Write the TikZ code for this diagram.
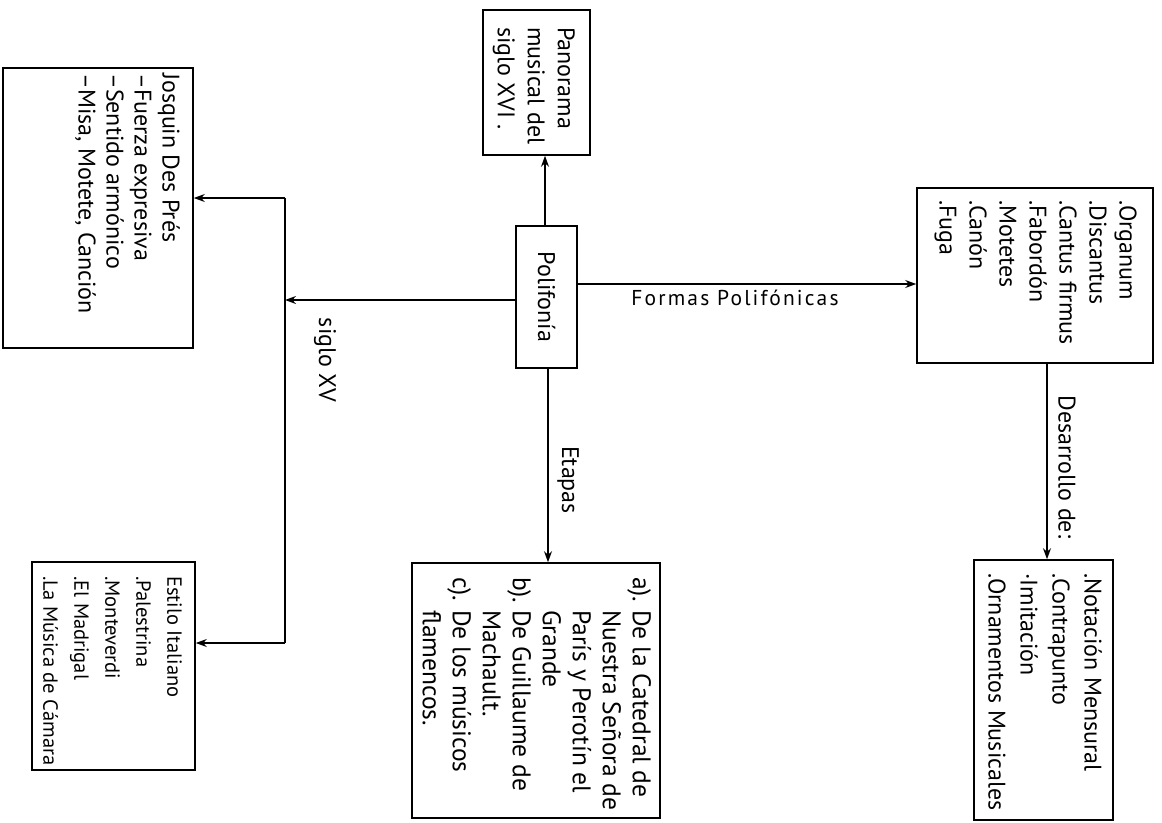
\documentclass[tikz,border=0pt]{standalone}
\usepackage{fontspec}
\setmainfont{PT Sans}
\newfontfamily\spacedfont[LetterSpace=10]{PT Sans}
\usetikzlibrary{arrows.meta,calc}
\begin{document}
\begin{tikzpicture}[x=1pt,y=-1pt,
  box/.style={draw,line width=1.6pt,inner sep=0pt},
  txt/.style={rotate=-90,anchor=north west,inner sep=0pt,align=left,font=\fontsize{24}{30}\selectfont},
  lbl/.style={rotate=-90,inner sep=0pt,font=\fontsize{24}{28}\selectfont},
  arr/.style={-{Stealth[length=11pt,width=8pt]},line width=1.3pt},
  ln/.style={line width=1.3pt}]
\useasboundingbox (0,0) rectangle (1162,822);
% boxes
\node[box,minimum width=190pt,minimum height=280pt] (jos) at (98,208) {};
\node[box,minimum width=107pt,minimum height=145pt] (pan) at (536.5,82.5) {};
\node[box,minimum width=61pt,minimum height=142pt] (pol) at (546.5,297) {};
\node[box,minimum width=236pt,minimum height=175pt] (for) at (1035,275.5) {};
\node[box,minimum width=139pt,minimum height=260pt] (not) at (1043.5,690) {};
\node[box,minimum width=248pt,minimum height=255pt] (eta) at (536,690.5) {};
\node[box,minimum width=163pt,minimum height=208pt] (est) at (113.5,666) {};
% texts
\node[txt] (josT) at (180,73) {Josquin Des Prés\\[-2pt]–Fuerza expresiva\\[-2pt]–Sentido armónico\\[-2pt]–Misa, Motete, Canción};
\node[txt] (panT) at (575,27) {Panorama\\musical del\\siglo XVI .};
\node[lbl] (polT) at (pol.center) {Polifonía};
\node[txt] (forT) at (1137,200) {.Organum\\.Discantus\\.Cantus firmus\\.Fabordón\\.Motetes\\.Canón\\.Fuga};
\node[txt] (notT) at (1102,573) {.Notación Mensural\\[2pt].Contrapunto\\[2pt]·Imitación\\[2pt].Ornamentos Musicales};
\node[txt,font=\fontsize{25.5}{30}\selectfont] (etaT) at (654,577) {\begin{tabular}{@{}l@{\ }l@{}}a). & De la Catedral de\\ & Nuestra Señora de\\ & París y Perotín el\\ & Grande\\ b). & De Guillaume de\\ & Machault.\\ c). & De los músicos\\ & flamencos.\end{tabular}};
\node[txt,font=\fontsize{20.5}{31}\selectfont] (estT) at (182,576) {Estilo Italiano\\.Palestrina\\.Monteverdi\\.El Madrigal\\.La Música de Cámara};
% junction coordinates
\coordinate (jt) at (285,198);
\coordinate (jm) at (285,300);
\coordinate (jb) at (285,643);
\coordinate (fy) at (0,284);
% connectors
\draw[arr] (pol.north -| 545,0) -- (pan.south -| 545,0);
\draw[arr] (pol.east |- fy) -- (for.west |- fy);
\draw[arr] (pol.west |- jm) -- (jm);
\draw[ln] (jt) -- (jb);
\draw[arr] (jt) -- (jos.east |- jt);
\draw[arr] (jb) -- (est.east |- jb);
\draw[arr] (pol.south -| 548,0) -- (eta.north -| 548,0);
\draw[arr] (for.south -| 1047,0) -- (not.north -| 1047,0);
% labels
\node[inner sep=0pt,font=\fontsize{21.5}{24}\spacedfont] (lf) at (735,298) {Formas Polifónicas};
\node[lbl] (ls) at (325,360) {siglo XV};
\node[lbl] (le) at (568,480) {Etapas};
\node[lbl] (ld) at (1067,467) {Desarrollo de:};
\end{tikzpicture}
\end{document}
